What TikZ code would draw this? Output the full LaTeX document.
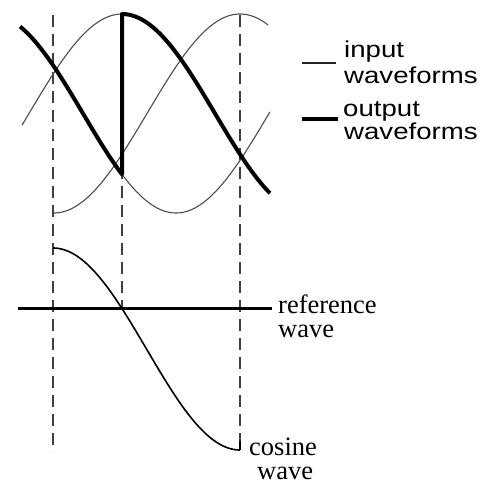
\documentclass[tikz,border=0pt]{standalone}
\usepackage{fontspec}
\newfontfamily\legendfont[FakeStretch=1.2]{Liberation Sans}
\newfontfamily\labelfont{Liberation Serif}
\begin{document}
\begin{tikzpicture}[x=1pt,y=-1pt,
  thinwave/.style={line width=1.1pt, black!70},
  thickwave/.style={line width=4pt, black, line join=round},
  cosw/.style={line width=1.6pt, black},
  refline/.style={line width=3pt, black},
  guide/.style={line width=1.1pt, black!75, dash pattern=on 12pt off 7pt},
  legendtext/.style={anchor=base west, inner sep=0pt, font=\legendfont\fontsize{23}{23}\selectfont},
  labeltext/.style={anchor=base west, inner sep=0pt, font=\labelfont\fontsize{26.5}{24}\selectfont}]
\useasboundingbox (0,0) rectangle (480,486);

% guide lines
\coordinate (g1t) at (53,15);  \coordinate (g1b) at (53,452);
\coordinate (g2t) at (122,15); \coordinate (g2b) at (122,308);
\coordinate (g3t) at (240,15); \coordinate (g3b) at (240,450);
\draw[guide] (g1t) -- (g1b);
\draw[guide] (g2t) -- (g2b);
\draw[guide] (g3t) -- (g3b);

% input waveforms (thin)
\draw[thinwave] plot[domain=22:122, samples=60, smooth] (\x, {113.5-99.5*cos(0.967742*(\x-122))});
\draw[thinwave] plot[domain=122:270, samples=60, smooth] (\x, {113.5+99.5*cos(0.967742*(\x-176))});
\draw[thinwave] plot[domain=53:268, samples=80, smooth] (\x, {113.5+99.5*cos(0.967742*(\x-54))});

% output waveform (thick)
\draw[thickwave] plot[domain=20:122, samples=60, smooth] (\x, {113.5+99.5*cos(0.967742*(\x-176))})
  -- plot[domain=122:270, samples=60, smooth] (\x, {113.5-99.5*cos(0.967742*(\x-122))});

% reference wave
\coordinate (r1) at (18,308); \coordinate (r2) at (272,308);
\draw[refline] (r1) -- (r2);
\node[labeltext] (ref1) at (278,313) {reference};
\node[labeltext] (ref2) at (278,337) {wave};

% cosine wave
\draw[cosw] plot[domain=53:240, samples=80, smooth] (\x, {349-101*cos(0.962567*(\x-53))});
\draw[cosw] (240,441) -- (g3b);
\node[labeltext] (cos1) at (249,455) {cosine};
\node[labeltext] (cos2) at (257,479) {wave};

% legend
\coordinate (l1a) at (302,63); \coordinate (l1b) at (336,63);
\coordinate (l2a) at (302,119); \coordinate (l2b) at (338,119);
\draw[thinwave, black!85] (l1a) -- (l1b);
\draw[thickwave] (l2a) -- (l2b);
\node[legendtext] (in1) at (344,58) {input};
\node[legendtext] (in2) at (344,84) {waveforms};
\node[legendtext] (out1) at (343,117) {output};
\node[legendtext] (out2) at (344,140) {waveforms};
\end{tikzpicture}
\end{document}
